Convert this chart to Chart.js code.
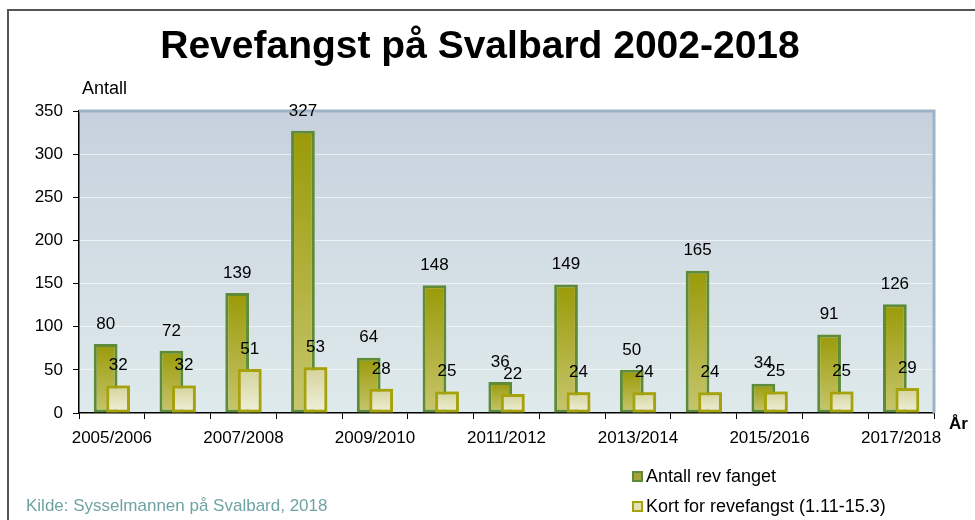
<!DOCTYPE html>
<html>
<head>
<meta charset="utf-8">
<script src="https://cdn.jsdelivr.net/npm/chart.js@4.4.1/dist/chart.umd.min.js"></script>
<style>
body{margin:0;width:975px;height:520px;overflow:hidden;background:#fff;position:relative;font-family:"Liberation Sans",Arial,sans-serif}
#frame{position:absolute;left:7px;top:9px;width:1200px;height:700px;border-left:2px solid #555;border-top:2px solid #555}
#wrap{position:absolute;left:0;top:0;width:975px;height:520px}
.txt{position:absolute;font-size:17px;line-height:20px;white-space:nowrap;color:#000}
#title{position:absolute;left:0;width:960px;top:22px;text-align:center;font-size:39px;line-height:46px;font-weight:bold}
.mk{display:inline-block;width:7px;height:7px;border:2px solid;margin-right:3px;vertical-align:0px}
</style>
</head>
<body>
<div id="frame"></div>
<div id="wrap"><canvas id="revChart" width="975" height="520"></canvas></div>
<div id="title">Revefangst på Svalbard 2002-2018</div>
<div class="txt" style="left:82px;top:78px;font-size:18px">Antall</div>
<div class="txt" style="left:949px;top:414px;font-weight:bold">År</div>
<div class="txt" style="left:26px;top:496px;color:#6fa3a3">Kilde: Sysselmannen på Svalbard, 2018</div>
<div id="legend"></div>
<script>
var categories = ["2005/2006", "2006/2007", "2007/2008", "2008/2009", "2009/2010", "2010/2011", "2011/2012",
    "2012/2013", "2013/2014", "2014/2015", "2015/2016", "2016/2017", "2017/2018"];
var antallRev = [80, 72, 139, 327, 64, 148, 36, 149, 50, 165, 34, 91, 126];
var kortRev = [32, 32, 51, 53, 28, 25, 22, 24, 24, 24, 25, 25, 29];
var seriesNames = ["Antall rev fanget", "Kort for revefangst (1.11-15.3)"];

Chart.defaults.font.family = '"Liberation Sans", Arial, sans-serif';
Chart.defaults.font.size = 17;
Chart.defaults.color = "#000";

// each bar gets its own top-to-bottom gradient
var barFill = function(top, bottom) {
    return function(ctx) {
        var chart = ctx.chart;
        if (!chart.chartArea || ctx.type !== "data") return top;
        var y = chart.scales.y;
        var g = chart.ctx.createLinearGradient(0, y.getPixelForValue(ctx.parsed.y), 0, y.getPixelForValue(0));
        g.addColorStop(0, top);
        g.addColorStop(1, bottom);
        return g;
    };
};

var plotDeco = {
    id: "plotDeco",
    beforeDraw: function(chart) {
        var a = chart.chartArea, c = chart.ctx;
        var g = c.createLinearGradient(0, a.top, 0, a.bottom);
        g.addColorStop(0, "#c7d1dd");
        g.addColorStop(1, "#dfeaec");
        c.save();
        c.fillStyle = g;
        c.fillRect(a.left, a.top, a.right - a.left, a.bottom - a.top);
        c.restore();
    },
    afterDatasetsDraw: function(chart) {
        var a = chart.chartArea, c = chart.ctx;
        // light bars sit in front of the dark ones
        chart.getDatasetMeta(1).controller.draw();
        c.save();
        c.strokeStyle = "#9fb3c8";
        c.lineWidth = 3;
        c.beginPath();
        c.moveTo(a.left, a.top);
        c.lineTo(a.right, a.top);
        c.lineTo(a.right, a.bottom);
        c.stroke();
        c.font = '17px "Liberation Sans", Arial, sans-serif';
        c.fillStyle = "#000";
        c.textAlign = "center";
        c.textBaseline = "middle";
        [antallRev, kortRev].forEach(function(vals, i) {
            chart.getDatasetMeta(i).data.forEach(function(el, j) {
                c.fillText(String(vals[j]), el.x, el.y - 20);
            });
        });
        c.restore();
    }
};

var chart = new Chart(document.getElementById("revChart"), {
    type: "bar",
    data: {
        labels: categories,
        datasets: [{
            label: seriesNames[0],
            data: antallRev,
            backgroundColor: barFill("#9a9a08", "#c7c66e"),
            borderColor: "#5e8b38",
            borderWidth: 3,
            borderSkipped: false
        }, {
            label: seriesNames[1],
            data: kortRev,
            backgroundColor: barFill("#d4d39a", "#f0f0db"),
            borderColor: "#a5a20c",
            borderWidth: 3,
            borderSkipped: false
        }]
    },
    options: {
        responsive: false,
        animation: false,
        datasets: {bar: {categoryPercentage: 0.38, barPercentage: 1.9}},
        layout: {padding: {top: 111, right: 41, left: 0, bottom: 0}},
        plugins: {legend: {display: false}, title: {display: false}, tooltip: {enabled: false}},
        scales: {
            x: {
                afterFit: function(s) { s.height = 107; },
                grid: {drawOnChartArea: false, color: "#000", tickLength: 6, lineWidth: 1},
                border: {color: "#000", width: 1.5},
                ticks: {
                    autoSkip: false, maxRotation: 0, padding: 9,
                    callback: function(v, i) { return i % 2 === 0 ? categories[i] : ""; }
                }
            },
            y: {
                min: 0, max: 350,
                afterFit: function(s) { s.width = 79; },
                grid: {
                    tickLength: 6, tickColor: "#000",
                    color: function(ctx) {
                        var v = ctx.tick && ctx.tick.value;
                        return (v === 0 || v === 350) ? "rgba(0,0,0,0)" : "rgba(255,255,255,0.6)";
                    }
                },
                border: {color: "#000", width: 1.5},
                ticks: {stepSize: 50, padding: 10}
            }
        }
    },
    plugins: [plotDeco]
});

// legend built from the datasets
var lg = document.getElementById("legend");
[["#5e8b38", "#a3a33a"], ["#a5a20c", "#e2e1b8"]].forEach(function(col, i) {
    var d = document.createElement("div");
    d.className = "txt";
    d.style.left = "632px";
    d.style.top = (466 + i * 30) + "px";
    d.style.fontSize = "18px";
    d.innerHTML = '<span class="mk" style="border-color:' + col[0] + ';background:' + col[1] + '"></span>' + seriesNames[i];
    lg.appendChild(d);
});
</script>
</body>
</html>
